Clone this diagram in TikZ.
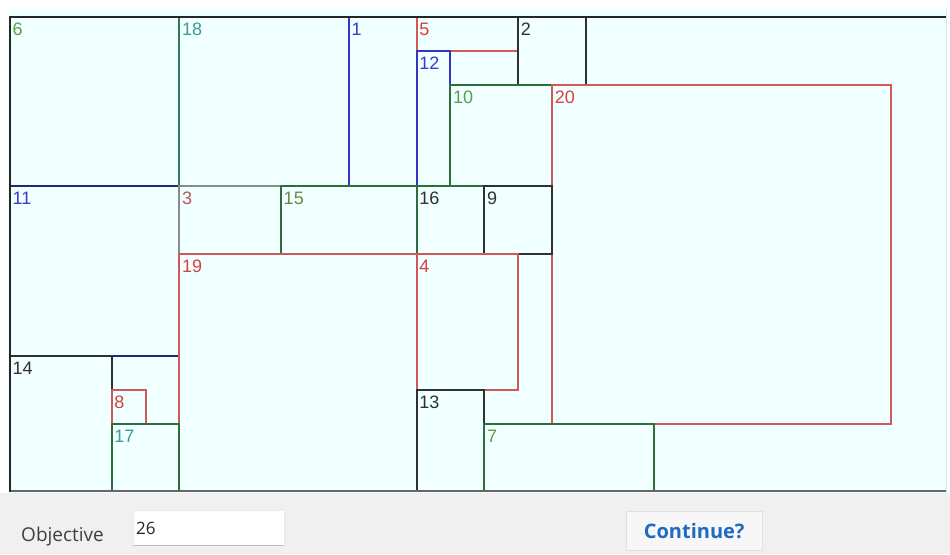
\documentclass[tikz,border=0pt]{standalone}
\usepackage{fontspec}
\setmainfont{Liberation Sans}
\newfontfamily\uifont{Open Sans}
\definecolor{canvas}{HTML}{F0FFFF}
\definecolor{panel}{HTML}{F0F0F0}
\definecolor{bgreen}{HTML}{2F6E3A}
\definecolor{lgreen}{HTML}{5A9E45}
\definecolor{bteal}{HTML}{2E7A5C}
\definecolor{lteal}{HTML}{3E9A96}
\definecolor{bblue}{HTML}{3535C0}
\definecolor{lblue}{HTML}{3A3AC8}
\definecolor{bnavy}{HTML}{25257A}
\definecolor{bred}{HTML}{D05858}
\definecolor{lred}{HTML}{D84040}
\definecolor{bdark}{HTML}{303030}
\definecolor{ldark}{HTML}{303030}
\definecolor{bgray}{HTML}{8A8A8A}
\definecolor{lbrown}{HTML}{B05A50}
\definecolor{lolive}{HTML}{6A8A3A}
\definecolor{btnblue}{HTML}{1F6BBF}
\newcommand\placebox[8]{%
  \draw[boxline,draw=#6] ({10+33.88*#2},{17+33.88*#3}) rectangle ({10+33.88*(#2+#4)},{17+33.88*(#3+#5)});
  \node[boxlabel,text=#7] (b#1) at ({12.5+33.88*#2},{35.5+33.88*#3}) {#8};%
}
\tikzset{
  boxline/.style={line width=2pt},
  boxlabel/.style={anchor=base west,inner sep=0pt,font=\fontsize{18}{19}\selectfont},
}
\begin{document}
\begin{tikzpicture}[x=1pt,y=-1pt]
\useasboundingbox (0,0) rectangle (950,554);
\fill[white] (0,0) rectangle (950,554);
\fill[panel] (0,493) rectangle (950,554);
\fill[canvas] (8,9) rectangle (946,493);
\draw[line width=0.8pt,draw=black!12] (946.5,9) -- (946.5,493);
% blocks
\placebox{6}{0}{0}{5}{5}{bgreen}{lgreen}{6}
\placebox{18}{5}{0}{5}{5}{bteal}{lteal}{18}
\placebox{1}{10}{0}{2}{5}{bblue}{lblue}{1}
\placebox{5}{12}{0}{3}{1}{bred}{lred}{5}
\placebox{2}{15}{0}{2}{2}{bdark}{ldark}{2}
\placebox{12}{12}{1}{1}{4}{bblue}{lblue}{12}
\placebox{10}{13}{2}{3}{3}{bgreen}{lgreen}{10}
\placebox{20}{16}{2}{10}{10}{bred}{lred}{20}
\placebox{11}{0}{5}{5}{5}{bnavy}{lblue}{11}
\placebox{3}{5}{5}{3}{2}{bgray}{lbrown}{3}
\placebox{15}{8}{5}{4}{2}{bgreen}{lolive}{15}
\placebox{16}{12}{5}{2}{2}{bgreen}{ldark}{16}
\placebox{9}{14}{5}{2}{2}{bdark}{ldark}{9}
\placebox{19}{5}{7}{7}{7}{bred}{lred}{19}
\placebox{4}{12}{7}{3}{4}{bred}{lred}{4}
\placebox{14}{0}{10}{3}{4}{bdark}{ldark}{14}
\placebox{8}{3}{11}{1}{1}{bred}{lred}{8}
\placebox{17}{3}{12}{2}{2}{bgreen}{lteal}{17}
\placebox{13}{12}{11}{2}{3}{bdark}{ldark}{13}
\placebox{7}{14}{12}{5}{2}{bgreen}{lgreen}{7}
% strip edges
\draw[line width=2.8pt,draw=black!85] (9,17) -- (946,17);
\draw[line width=2pt,draw=black!60] (9,491.3) -- (946,491.3);
\draw[line width=2pt,draw=black!85] (10,16) -- (10,492);
% controls
\node[anchor=base west,inner sep=0pt,text=black!75,font=\uifont\fontsize{19}{21}\selectfont] (objlabel) at (21,541) {Objective};
\node[draw=black!8,fill=white,minimum width=151pt,minimum height=35pt,inner sep=0pt,anchor=north west] (objbox) at (133,510) {};
\draw[black!25,line width=0.8pt] (objbox.south west) -- (objbox.south east);
\node[anchor=base west,inner sep=0pt,text=black!85,font=\uifont\fontsize{17}{19}\selectfont] (objval) at (136,534) {26};
\node[draw=black!12,fill=black!3,minimum width=136pt,minimum height=39pt,inner sep=0pt,anchor=north west] (btn) at (626,511) {};
\node[text=btnblue,font=\uifont\bfseries\fontsize{20}{22}\selectfont,inner sep=0pt] (btntext) at (btn.center) {Continue?};
\end{tikzpicture}
\end{document}
